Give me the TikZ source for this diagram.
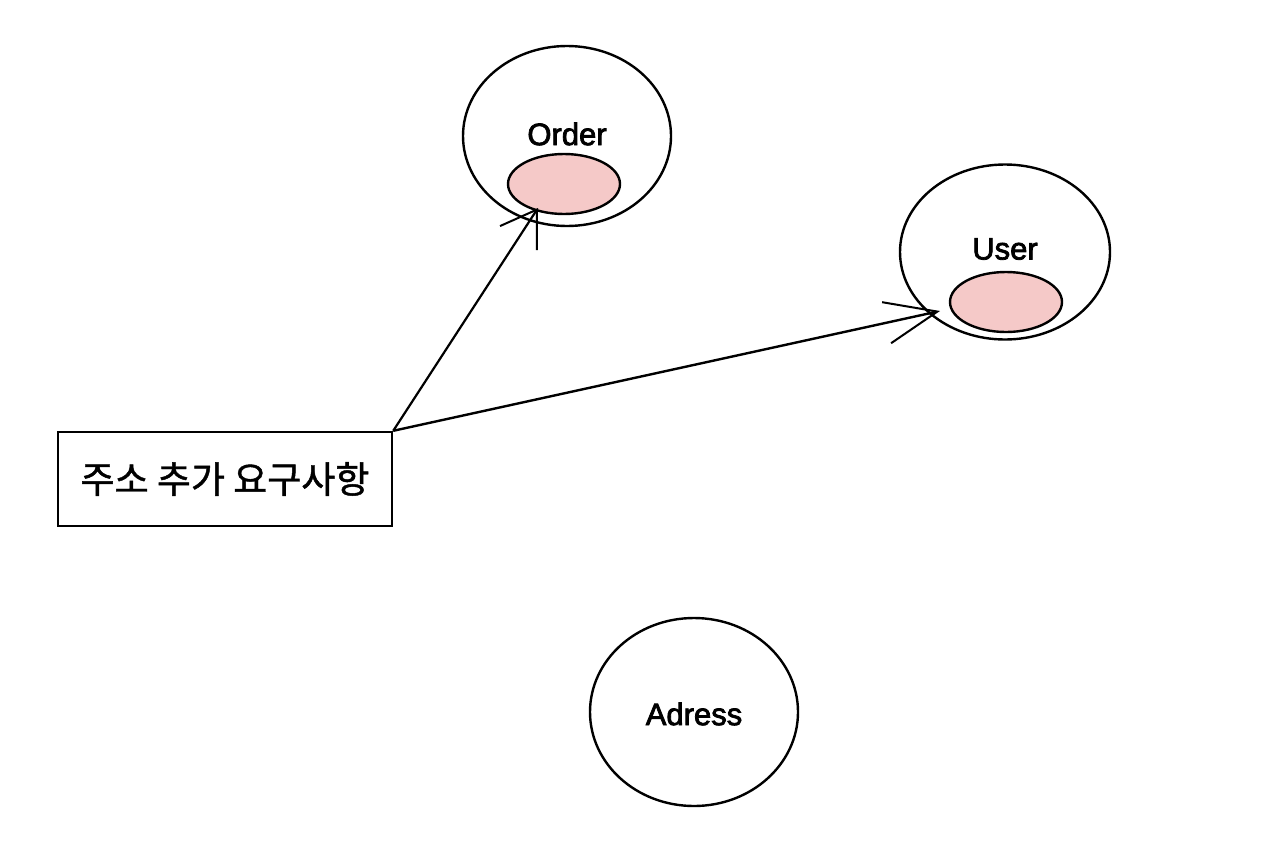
\documentclass[tikz,border=0pt]{standalone}
\usepackage{fontspec}
\setmainfont{Liberation Sans}
\newfontfamily\lblfont[FakeBold=2.5]{Liberation Sans}
\newfontfamily\krfont[FakeBold=1.2]{Noto Sans CJK KR}
\usetikzlibrary{shapes.geometric,arrows.meta}
\begin{document}
\begin{tikzpicture}[x=1pt,y=-1pt,
  bubble/.style={draw=black,line width=2.4pt,ellipse,inner sep=0pt},
  pinkspot/.style={draw=black,line width=2.4pt,ellipse,fill=pinkfill,inner sep=0pt,minimum width=112pt,minimum height=60pt},
  lbl/.style={font=\lblfont\fontsize{31}{36}\selectfont,inner sep=0pt},
  req/.style={draw=black,line width=2.4pt,rectangle,minimum width=334pt,minimum height=94pt,font=\krfont\fontsize{37}{44}\selectfont},
  sketcharrow/.style={line width=2.2pt,-{Straight Barb[length=34pt,width=44pt,line width=2pt]}},
  longarrow/.style={line width=2.4pt,-{Straight Barb[length=52pt,width=42pt,line width=2pt]}}
]
\definecolor{pinkfill}{HTML}{F5C9C8}
\useasboundingbox (0,0) rectangle (1268,854);
\fill[white] (0,0) rectangle (1268,854);

\node[bubble,minimum width=208pt,minimum height=180pt] (order) at (567,136) {};
\node[pinkspot] (opink) at (564,184) {};
\node[lbl] (olbl) at (567,134) {Order};

\node[bubble,minimum width=210pt,minimum height=175pt] (user) at (1005,252) {};
\node[pinkspot] (upink) at (1006,302) {};
\node[lbl] (ulbl) at (1005,249) {User};

\node[bubble,minimum width=208pt,minimum height=188pt] (adress) at (694,712) {};
\node[lbl] (albl) at (694,714) {Adress};

\node[req] (req) at (225,479) {주소 추가 요구사항};

\coordinate (oend) at (538,208);
\coordinate (uend) at (940,311);
\draw[sketcharrow] (req.north east) -- (oend);
\draw[longarrow] (req.north east) -- (uend);
\end{tikzpicture}
\end{document}
